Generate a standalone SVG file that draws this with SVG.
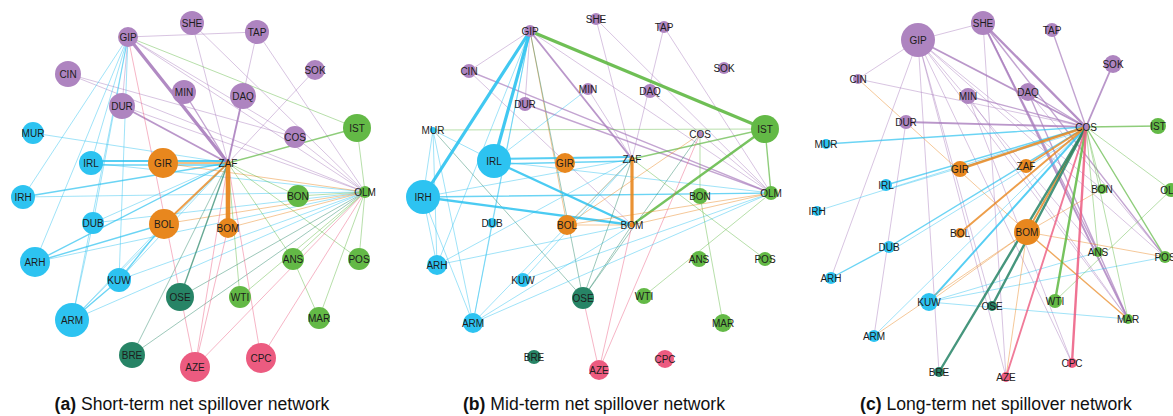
<svg xmlns="http://www.w3.org/2000/svg" width="1173" height="416" viewBox="0 0 1173 416">
<style>
.bg{fill:#ffffff}
line{stroke-linecap:round}
.p{stroke:#a97dbd}.b{stroke:#2cc2f0}.o{stroke:#e8861d}.g{stroke:#5fb843}.d{stroke:#268466}.r{stroke:#ec5a80}
.w1{stroke-width:0.9;stroke-opacity:0.5}
.w15{stroke-width:1.4;stroke-opacity:0.7}
.w2{stroke-width:1.9;stroke-opacity:0.8}
.w25{stroke-width:2.4;stroke-opacity:0.85}
.w3{stroke-width:3.2;stroke-opacity:0.9}
.w5{stroke-width:4.6;stroke-opacity:0.95}
.np{fill:#ae84c0}.nb{fill:#2dc3f1}.no{fill:#e8871e}.ng{fill:#63b946}.nd{fill:#278466}.nr{fill:#ec5b80}
.n text{font-family:"Liberation Sans",Arial,sans-serif;font-size:10px;fill:#1c1c1c;text-anchor:middle}
.cap{font-family:"Liberation Sans",Arial,sans-serif;font-size:17.6px;fill:#111;text-anchor:middle}
.cap tspan{font-weight:bold}
</style>
<rect class="bg" x="0" y="0" width="1173" height="416"/>

<!-- ================= Panel A edges ================= -->
<g id="edges-a">
<line class="p w1" x1="128" y1="37" x2="257" y2="32"/>
<line class="p w1" x1="128" y1="37" x2="365" y2="192"/>
<line class="p w1" x1="128" y1="37" x2="295" y2="137"/>
<line class="p w1" x1="128" y1="37" x2="122" y2="106"/>
<line class="p w1" x1="192" y1="23" x2="228" y2="163"/>
<line class="p w1" x1="192" y1="23" x2="365" y2="192"/>
<line class="p w1" x1="257" y1="32" x2="228" y2="163"/>
<line class="p w1" x1="257" y1="32" x2="365" y2="192"/>
<line class="p w1" x1="315" y1="70" x2="228" y2="163"/>
<line class="p w1" x1="68" y1="74" x2="365" y2="192"/>
<line class="p w1" x1="68" y1="74" x2="295" y2="137"/>
<line class="p w15" x1="184" y1="92" x2="228" y2="163"/>
<line class="p w2" x1="243" y1="96" x2="228" y2="163"/>
<line class="p w2" x1="122" y1="106" x2="228" y2="163"/>
<line class="p w1" x1="122" y1="106" x2="365" y2="192"/>
<line class="p w1" x1="295" y1="137" x2="365" y2="192"/>
<line class="g w1" x1="128" y1="37" x2="357" y2="128"/>
<line class="b w1" x1="128" y1="37" x2="23" y2="197"/>
<line class="b w1" x1="128" y1="37" x2="91" y2="163"/>
<line class="b w1" x1="128" y1="37" x2="35" y2="262"/>
<line class="b w1" x1="128" y1="37" x2="93" y2="223"/>
<line class="b w1" x1="128" y1="37" x2="119" y2="280"/>
<line class="b w1" x1="128" y1="37" x2="72" y2="320"/>
<line class="b w1" x1="33" y1="133" x2="228" y2="163"/>
<line class="b w2" x1="91" y1="161" x2="228" y2="161"/>
<line class="b w15" x1="91" y1="165" x2="228" y2="165"/>
<line class="b w1" x1="91" y1="163" x2="365" y2="192"/>
<line class="b w15" x1="23" y1="197" x2="228" y2="163"/>
<line class="b w1" x1="23" y1="197" x2="365" y2="192"/>
<line class="b w1" x1="93" y1="223" x2="228" y2="163"/>
<line class="b w1" x1="93" y1="223" x2="365" y2="192"/>
<line class="b w1" x1="93" y1="223" x2="72" y2="320"/>
<line class="b w15" x1="35" y1="262" x2="164" y2="224"/>
<line class="b w15" x1="35" y1="262" x2="228" y2="163"/>
<line class="b w1" x1="35" y1="262" x2="365" y2="192"/>
<line class="b w1" x1="119" y1="280" x2="228" y2="163"/>
<line class="b w1" x1="119" y1="280" x2="365" y2="192"/>
<line class="b w15" x1="119" y1="280" x2="164" y2="224"/>
<line class="b w15" x1="119" y1="280" x2="72" y2="320"/>
<line class="b w1" x1="72" y1="320" x2="164" y2="224"/>
<line class="b w1" x1="72" y1="320" x2="365" y2="192"/>
<line class="b w1" x1="72" y1="320" x2="228" y2="163"/>
<line class="o w15" x1="163" y1="163" x2="228" y2="163"/>
<line class="o w1" x1="163" y1="163" x2="365" y2="192"/>
<line class="o w2" x1="164" y1="224" x2="228" y2="163"/>
<line class="o w1" x1="164" y1="224" x2="365" y2="192"/>
<line class="o w1" x1="228" y1="228" x2="365" y2="192"/>
<line class="g w15" x1="357" y1="128" x2="228" y2="163"/>
<line class="g w1" x1="357" y1="128" x2="365" y2="192"/>
<line class="g w1" x1="298" y1="196" x2="228" y2="163"/>
<line class="g w1" x1="298" y1="196" x2="365" y2="192"/>
<line class="g w1" x1="293" y1="259" x2="228" y2="163"/>
<line class="g w1" x1="293" y1="259" x2="365" y2="192"/>
<line class="g w1" x1="293" y1="259" x2="319" y2="318"/>
<line class="g w1" x1="359" y1="259" x2="365" y2="192"/>
<line class="g w1" x1="359" y1="259" x2="228" y2="163"/>
<line class="g w1" x1="240" y1="297" x2="228" y2="163"/>
<line class="g w1" x1="240" y1="297" x2="365" y2="192"/>
<line class="g w1" x1="319" y1="318" x2="365" y2="192"/>
<line class="d w15" x1="180" y1="297" x2="228" y2="163"/>
<line class="d w1" x1="180" y1="297" x2="365" y2="192"/>
<line class="d w1" x1="132" y1="355" x2="228" y2="163"/>
<line class="d w1" x1="132" y1="355" x2="365" y2="192"/>
<line class="r w1" x1="195" y1="367" x2="228" y2="163"/>
<line class="r w1" x1="195" y1="367" x2="228" y2="228"/>
<line class="r w1" x1="195" y1="367" x2="128" y2="37"/>
<line class="r w1" x1="195" y1="367" x2="365" y2="192"/>
<line class="r w1" x1="261" y1="358" x2="228" y2="163"/>
<line class="r w1" x1="261" y1="358" x2="365" y2="192"/>
<line class="o w5" x1="228" y1="228" x2="228" y2="163"/>
<line class="p w3" x1="128" y1="37" x2="228" y2="163"/>
</g>

<!-- ================= Panel B edges ================= -->
<g id="edges-b">
<line class="p w1" x1="530" y1="31" x2="469" y2="71"/>
<line class="p w1" x1="530" y1="31" x2="525" y2="104"/>
<line class="o w1" x1="530" y1="31" x2="567" y2="225"/>
<line class="d w1" x1="530" y1="31" x2="583" y2="298"/>
<line class="b w1" x1="530" y1="31" x2="437" y2="265"/>
<line class="b w1" x1="530" y1="31" x2="473" y2="323"/>
<line class="b w1" x1="530" y1="31" x2="492" y2="223"/>
<line class="p w1" x1="530" y1="31" x2="771" y2="193"/>
<line class="p w1" x1="596" y1="19" x2="632" y2="159"/>
<line class="p w1" x1="596" y1="19" x2="771" y2="193"/>
<line class="p w1" x1="664" y1="27" x2="632" y2="159"/>
<line class="p w1" x1="664" y1="27" x2="771" y2="193"/>
<line class="p w15" x1="469" y1="71" x2="771" y2="193"/>
<line class="p w1" x1="469" y1="71" x2="632" y2="225"/>
<line class="p w15" x1="525" y1="104" x2="771" y2="193"/>
<line class="p w1" x1="650" y1="91" x2="771" y2="193"/>
<line class="p w1" x1="588" y1="89" x2="632" y2="159"/>
<line class="b w1" x1="588" y1="89" x2="494" y2="161"/>
<line class="g w1" x1="433" y1="130" x2="765" y2="129"/>
<line class="b w1" x1="433" y1="130" x2="494" y2="161"/>
<line class="b w1" x1="433" y1="130" x2="423" y2="197"/>
<line class="b w1" x1="433" y1="130" x2="437" y2="265"/>
<line class="b w1" x1="433" y1="130" x2="473" y2="323"/>
<line class="d w1" x1="433" y1="130" x2="583" y2="298"/>
<line class="b w2" x1="494" y1="159" x2="632" y2="157"/>
<line class="b w15" x1="494" y1="164" x2="632" y2="161"/>
<line class="b w25" x1="494" y1="161" x2="632" y2="225"/>
<line class="b w1" x1="494" y1="161" x2="771" y2="193"/>
<line class="b w25" x1="423" y1="197" x2="632" y2="225"/>
<line class="b w15" x1="423" y1="197" x2="771" y2="193"/>
<line class="b w1" x1="423" y1="197" x2="632" y2="159"/>
<line class="b w1" x1="423" y1="197" x2="437" y2="265"/>
<line class="b w1" x1="423" y1="197" x2="473" y2="323"/>
<line class="g w15" x1="765" y1="129" x2="632" y2="159"/>
<line class="g w25" x1="765" y1="129" x2="632" y2="225"/>
<line class="g w15" x1="765" y1="129" x2="771" y2="193"/>
<line class="o w1" x1="700" y1="134" x2="567" y2="225"/>
<line class="d w1" x1="700" y1="134" x2="583" y2="298"/>
<line class="r w1" x1="700" y1="134" x2="599" y2="370"/>
<line class="g w1" x1="700" y1="134" x2="700" y2="196"/>
<line class="o w1" x1="567" y1="225" x2="632" y2="225"/>
<line class="o w1" x1="567" y1="225" x2="771" y2="193"/>
<line class="o w1" x1="567" y1="225" x2="632" y2="159"/>
<line class="b w1" x1="437" y1="265" x2="632" y2="225"/>
<line class="b w1" x1="437" y1="265" x2="632" y2="159"/>
<line class="b w1" x1="473" y1="323" x2="632" y2="225"/>
<line class="b w1" x1="473" y1="323" x2="771" y2="193"/>
<line class="b w1" x1="473" y1="323" x2="632" y2="159"/>
<line class="b w1" x1="523" y1="280" x2="632" y2="159"/>
<line class="b w1" x1="523" y1="280" x2="771" y2="193"/>
<line class="b w1" x1="492" y1="223" x2="473" y2="323"/>
<line class="g w1" x1="644" y1="296" x2="771" y2="193"/>
<line class="g w1" x1="700" y1="196" x2="723" y2="323"/>
<line class="g w1" x1="632" y1="159" x2="765" y2="259"/>
<line class="r w1" x1="599" y1="370" x2="632" y2="225"/>
<line class="r w1" x1="599" y1="370" x2="583" y2="298"/>
<line class="d w1" x1="583" y1="298" x2="632" y2="159"/>
<line class="d w1" x1="583" y1="298" x2="632" y2="225"/>
<line class="o w1" x1="632" y1="225" x2="771" y2="193"/>
<line class="o w3" x1="632" y1="225" x2="632" y2="159"/>
<line class="p w2" x1="530" y1="31" x2="632" y2="159"/>
<line class="b w3" x1="530" y1="31" x2="423" y2="197"/>
<line class="b w3" x1="530" y1="31" x2="494" y2="161"/>
<line class="g w3" x1="530" y1="31" x2="765" y2="129"/>
</g>

<!-- ================= Panel C edges ================= -->
<g id="edges-c">
<line class="p w1" x1="918" y1="40" x2="983" y2="23"/>
<line class="p w1" x1="918" y1="40" x2="858" y2="79"/>
<line class="p w1" x1="918" y1="40" x2="1128" y2="319"/>
<line class="p w1" x1="918" y1="40" x2="1165" y2="257"/>
<line class="p w1" x1="918" y1="40" x2="1098" y2="252"/>
<line class="p w1" x1="918" y1="40" x2="1072" y2="363"/>
<line class="p w1" x1="918" y1="40" x2="1006" y2="377"/>
<line class="p w1" x1="918" y1="40" x2="939" y2="372"/>
<line class="p w1" x1="918" y1="40" x2="831" y2="278"/>
<line class="p w1" x1="918" y1="40" x2="992" y2="306"/>
<line class="p w1" x1="918" y1="40" x2="1102" y2="189"/>
<line class="p w2" x1="983" y1="23" x2="1128" y2="319"/>
<line class="p w15" x1="983" y1="23" x2="1165" y2="257"/>
<line class="p w15" x1="983" y1="23" x2="1098" y2="252"/>
<line class="p w1" x1="983" y1="23" x2="1006" y2="377"/>
<line class="p w15" x1="1052" y1="30" x2="1086" y2="127"/>
<line class="p w2" x1="1113" y1="64" x2="1086" y2="127"/>
<line class="p w1" x1="858" y1="79" x2="1086" y2="127"/>
<line class="o w1" x1="858" y1="79" x2="1027" y2="232"/>
<line class="p w15" x1="968" y1="96" x2="1086" y2="127"/>
<line class="p w1" x1="968" y1="96" x2="1128" y2="319"/>
<line class="p w1" x1="968" y1="96" x2="1072" y2="363"/>
<line class="p w15" x1="1028" y1="92" x2="1086" y2="127"/>
<line class="p w15" x1="1028" y1="92" x2="1128" y2="319"/>
<line class="p w1" x1="1028" y1="92" x2="1165" y2="257"/>
<line class="p w2" x1="906" y1="122" x2="1086" y2="127"/>
<line class="p w1" x1="906" y1="122" x2="874" y2="336"/>
<line class="b w15" x1="826" y1="144" x2="1086" y2="127"/>
<line class="b w15" x1="886" y1="185" x2="1086" y2="127"/>
<line class="b w1" x1="886" y1="190" x2="1086" y2="130"/>
<line class="b w1" x1="817" y1="211" x2="1086" y2="127"/>
<line class="b w15" x1="889" y1="247" x2="1086" y2="127"/>
<line class="b w1" x1="889" y1="252" x2="1086" y2="131"/>
<line class="b w15" x1="831" y1="278" x2="889" y2="247"/>
<line class="b w2" x1="929" y1="302" x2="1086" y2="127"/>
<line class="b w1" x1="929" y1="302" x2="1098" y2="252"/>
<line class="b w1" x1="929" y1="302" x2="1165" y2="257"/>
<line class="b w1" x1="929" y1="302" x2="1128" y2="319"/>
<line class="b w1" x1="874" y1="336" x2="1086" y2="127"/>
<line class="o w1" x1="874" y1="336" x2="1027" y2="232"/>
<line class="o w25" x1="960" y1="169" x2="1086" y2="127"/>
<line class="o w2" x1="1026" y1="166" x2="1086" y2="127"/>
<line class="o w2" x1="960" y1="233" x2="1086" y2="127"/>
<line class="o w2" x1="1027" y1="232" x2="1086" y2="127"/>
<line class="o w1" x1="1027" y1="232" x2="1102" y2="189"/>
<line class="o w1" x1="1027" y1="232" x2="1165" y2="257"/>
<line class="o w15" x1="1027" y1="232" x2="1128" y2="319"/>
<line class="o w1" x1="1027" y1="232" x2="1006" y2="377"/>
<line class="o w1" x1="1027" y1="232" x2="929" y2="302"/>
<line class="d w25" x1="992" y1="306" x2="1086" y2="127"/>
<line class="d w25" x1="939" y1="372" x2="1086" y2="127"/>
<line class="g w25" x1="1055" y1="301" x2="1086" y2="127"/>
<line class="g w15" x1="1158" y1="126" x2="1086" y2="127"/>
<line class="g w1" x1="1102" y1="189" x2="1086" y2="127"/>
<line class="g w1" x1="1098" y1="252" x2="1086" y2="127"/>
<line class="g w15" x1="1165" y1="257" x2="1086" y2="127"/>
<line class="g w1" x1="1128" y1="319" x2="1086" y2="127"/>
<line class="g w1" x1="1171" y1="190" x2="1086" y2="127"/>
<line class="g w1" x1="1055" y1="301" x2="1171" y2="190"/>
<line class="r w2" x1="1006" y1="377" x2="1086" y2="127"/>
<line class="r w25" x1="1072" y1="363" x2="1086" y2="127"/>
<line class="p w25" x1="983" y1="23" x2="1086" y2="127"/>
<line class="p w2" x1="918" y1="40" x2="1086" y2="127"/>
</g>

<!-- ================= Panel A nodes ================= -->
<g id="a-GIP" class="n"><circle class="np" cx="128" cy="37" r="10"/><text x="128" y="40.6">GIP</text></g>
<g id="a-SHE" class="n"><circle class="np" cx="192" cy="23" r="12"/><text x="192" y="26.6">SHE</text></g>
<g id="a-TAP" class="n"><circle class="np" cx="257" cy="32" r="12"/><text x="257" y="35.6">TAP</text></g>
<g id="a-SOK" class="n"><circle class="np" cx="315" cy="70" r="10"/><text x="315" y="73.6">SOK</text></g>
<g id="a-CIN" class="n"><circle class="np" cx="68" cy="74" r="13"/><text x="68" y="77.6">CIN</text></g>
<g id="a-MIN" class="n"><circle class="np" cx="184" cy="92" r="12"/><text x="184" y="95.6">MIN</text></g>
<g id="a-DAQ" class="n"><circle class="np" cx="243" cy="96" r="13"/><text x="243" y="99.6">DAQ</text></g>
<g id="a-DUR" class="n"><circle class="np" cx="122" cy="106" r="13"/><text x="122" y="109.6">DUR</text></g>
<g id="a-MUR" class="n"><circle class="nb" cx="33" cy="133" r="11"/><text x="33" y="136.6">MUR</text></g>
<g id="a-COS" class="n"><circle class="np" cx="295" cy="137" r="11"/><text x="295" y="140.6">COS</text></g>
<g id="a-IST" class="n"><circle class="ng" cx="357" cy="128" r="14"/><text x="357" y="131.6">IST</text></g>
<g id="a-IRL" class="n"><circle class="nb" cx="91" cy="163" r="12"/><text x="91" y="166.6">IRL</text></g>
<g id="a-GIR" class="n"><circle class="no" cx="163" cy="163" r="15"/><text x="163" y="166.6">GIR</text></g>
<g id="a-ZAF" class="n"><circle class="no" cx="228" cy="163" r="2.5"/><text x="228" y="166.6">ZAF</text></g>
<g id="a-IRH" class="n"><circle class="nb" cx="23" cy="197" r="12"/><text x="23" y="200.6">IRH</text></g>
<g id="a-BON" class="n"><circle class="ng" cx="298" cy="196" r="11"/><text x="298" y="199.6">BON</text></g>
<g id="a-OLM" class="n"><circle class="ng" cx="365" cy="192" r="6"/><text x="365" y="195.6">OLM</text></g>
<g id="a-DUB" class="n"><circle class="nb" cx="93" cy="223" r="11"/><text x="93" y="226.6">DUB</text></g>
<g id="a-BOL" class="n"><circle class="no" cx="164" cy="224" r="15"/><text x="164" y="227.6">BOL</text></g>
<g id="a-BOM" class="n"><circle class="no" cx="228" cy="228" r="10"/><text x="228" y="231.6">BOM</text></g>
<g id="a-ARH" class="n"><circle class="nb" cx="35" cy="262" r="15"/><text x="35" y="265.6">ARH</text></g>
<g id="a-ANS" class="n"><circle class="ng" cx="293" cy="259" r="11"/><text x="293" y="262.6">ANS</text></g>
<g id="a-POS" class="n"><circle class="ng" cx="359" cy="259" r="11"/><text x="359" y="262.6">POS</text></g>
<g id="a-KUW" class="n"><circle class="nb" cx="119" cy="280" r="12"/><text x="119" y="283.6">KUW</text></g>
<g id="a-OSE" class="n"><circle class="nd" cx="180" cy="297" r="14"/><text x="180" y="300.6">OSE</text></g>
<g id="a-WTI" class="n"><circle class="ng" cx="240" cy="297" r="11"/><text x="240" y="300.6">WTI</text></g>
<g id="a-MAR" class="n"><circle class="ng" cx="319" cy="318" r="11"/><text x="319" y="321.6">MAR</text></g>
<g id="a-ARM" class="n"><circle class="nb" cx="72" cy="320" r="17"/><text x="72" y="323.6">ARM</text></g>
<g id="a-BRE" class="n"><circle class="nd" cx="132" cy="355" r="13"/><text x="132" y="358.6">BRE</text></g>
<g id="a-AZE" class="n"><circle class="nr" cx="195" cy="367" r="15"/><text x="195" y="370.6">AZE</text></g>
<g id="a-CPC" class="n"><circle class="nr" cx="261" cy="358" r="15"/><text x="261" y="361.6">CPC</text></g>

<!-- ================= Panel B nodes ================= -->
<g id="b-GIP" class="n"><circle class="np" cx="530" cy="31" r="6"/><text x="530" y="34.6">GIP</text></g>
<g id="b-SHE" class="n"><circle class="np" cx="596" cy="19" r="6"/><text x="596" y="22.6">SHE</text></g>
<g id="b-TAP" class="n"><circle class="np" cx="664" cy="27" r="6"/><text x="664" y="30.6">TAP</text></g>
<g id="b-SOK" class="n"><circle class="np" cx="724" cy="68" r="6"/><text x="724" y="71.6">SOK</text></g>
<g id="b-CIN" class="n"><circle class="np" cx="469" cy="71" r="7"/><text x="469" y="74.6">CIN</text></g>
<g id="b-MIN" class="n"><circle class="np" cx="588" cy="89" r="6"/><text x="588" y="92.6">MIN</text></g>
<g id="b-DAQ" class="n"><circle class="np" cx="650" cy="91" r="7"/><text x="650" y="94.6">DAQ</text></g>
<g id="b-DUR" class="n"><circle class="np" cx="525" cy="104" r="7"/><text x="525" y="107.6">DUR</text></g>
<g id="b-MUR" class="n"><circle class="nb" cx="433" cy="130" r="3"/><text x="433" y="133.6">MUR</text></g>
<g id="b-COS" class="n"><circle class="np" cx="700" cy="134" r="3"/><text x="700" y="137.6">COS</text></g>
<g id="b-IST" class="n"><circle class="ng" cx="765" cy="129" r="14"/><text x="765" y="132.6">IST</text></g>
<g id="b-IRL" class="n"><circle class="nb" cx="494" cy="161" r="17"/><text x="494" y="164.6">IRL</text></g>
<g id="b-GIR" class="n"><circle class="no" cx="565" cy="163" r="10"/><text x="565" y="166.6">GIR</text></g>
<g id="b-ZAF" class="n"><circle class="no" cx="632" cy="159" r="2.5"/><text x="632" y="162.6">ZAF</text></g>
<g id="b-IRH" class="n"><circle class="nb" cx="423" cy="197" r="17"/><text x="423" y="200.6">IRH</text></g>
<g id="b-BON" class="n"><circle class="ng" cx="700" cy="196" r="8"/><text x="700" y="199.6">BON</text></g>
<g id="b-OLM" class="n"><circle class="ng" cx="771" cy="193" r="7"/><text x="771" y="196.6">OLM</text></g>
<g id="b-DUB" class="n"><circle class="nb" cx="492" cy="223" r="5"/><text x="492" y="226.6">DUB</text></g>
<g id="b-BOL" class="n"><circle class="no" cx="567" cy="225" r="10"/><text x="567" y="228.6">BOL</text></g>
<g id="b-BOM" class="n"><circle class="no" cx="632" cy="225" r="2.5"/><text x="632" y="228.6">BOM</text></g>
<g id="b-ARH" class="n"><circle class="nb" cx="437" cy="265" r="10"/><text x="437" y="268.6">ARH</text></g>
<g id="b-ANS" class="n"><circle class="ng" cx="699" cy="259" r="8"/><text x="699" y="262.6">ANS</text></g>
<g id="b-POS" class="n"><circle class="ng" cx="765" cy="259" r="7"/><text x="765" y="262.6">POS</text></g>
<g id="b-KUW" class="n"><circle class="nb" cx="523" cy="280" r="7"/><text x="523" y="283.6">KUW</text></g>
<g id="b-OSE" class="n"><circle class="nd" cx="583" cy="298" r="11"/><text x="583" y="301.6">OSE</text></g>
<g id="b-WTI" class="n"><circle class="ng" cx="644" cy="296" r="8"/><text x="644" y="299.6">WTI</text></g>
<g id="b-MAR" class="n"><circle class="ng" cx="723" cy="323" r="9"/><text x="723" y="326.6">MAR</text></g>
<g id="b-ARM" class="n"><circle class="nb" cx="473" cy="323" r="10"/><text x="473" y="326.6">ARM</text></g>
<g id="b-BRE" class="n"><circle class="nd" cx="534" cy="357" r="7"/><text x="534" y="360.6">BRE</text></g>
<g id="b-AZE" class="n"><circle class="nr" cx="599" cy="370" r="10"/><text x="599" y="373.6">AZE</text></g>
<g id="b-CPC" class="n"><circle class="nr" cx="665" cy="359" r="9"/><text x="665" y="362.6">CPC</text></g>

<!-- ================= Panel C nodes ================= -->
<g id="c-GIP" class="n"><circle class="np" cx="918" cy="40" r="17"/><text x="918" y="43.6">GIP</text></g>
<g id="c-SHE" class="n"><circle class="np" cx="983" cy="23" r="12"/><text x="983" y="26.6">SHE</text></g>
<g id="c-TAP" class="n"><circle class="np" cx="1052" cy="30" r="7"/><text x="1052" y="33.6">TAP</text></g>
<g id="c-SOK" class="n"><circle class="np" cx="1113" cy="64" r="9"/><text x="1113" y="67.6">SOK</text></g>
<g id="c-CIN" class="n"><circle class="np" cx="858" cy="79" r="5"/><text x="858" y="82.6">CIN</text></g>
<g id="c-MIN" class="n"><circle class="np" cx="968" cy="96" r="8"/><text x="968" y="99.6">MIN</text></g>
<g id="c-DAQ" class="n"><circle class="np" cx="1028" cy="92" r="9"/><text x="1028" y="95.6">DAQ</text></g>
<g id="c-DUR" class="n"><circle class="np" cx="906" cy="122" r="7"/><text x="906" y="125.6">DUR</text></g>
<g id="c-MUR" class="n"><circle class="nb" cx="826" cy="144" r="5"/><text x="826" y="147.6">MUR</text></g>
<g id="c-COS" class="n"><circle class="np" cx="1086" cy="127" r="3"/><text x="1086" y="130.6">COS</text></g>
<g id="c-IST" class="n"><circle class="ng" cx="1158" cy="126" r="8"/><text x="1158" y="129.6">IST</text></g>
<g id="c-IRL" class="n"><circle class="nb" cx="886" cy="185" r="6"/><text x="886" y="188.6">IRL</text></g>
<g id="c-GIR" class="n"><circle class="no" cx="960" cy="169" r="8"/><text x="960" y="172.6">GIR</text></g>
<g id="c-ZAF" class="n"><circle class="no" cx="1026" cy="166" r="7"/><text x="1026" y="169.6">ZAF</text></g>
<g id="c-IRH" class="n"><circle class="nb" cx="817" cy="211" r="5"/><text x="817" y="214.6">IRH</text></g>
<g id="c-BON" class="n"><circle class="ng" cx="1102" cy="189" r="5"/><text x="1102" y="192.6">BON</text></g>
<g id="c-OLM" class="n"><circle class="ng" cx="1171" cy="190" r="7"/><text x="1171" y="193.6">OLM</text></g>
<g id="c-DUB" class="n"><circle class="nb" cx="889" cy="247" r="6"/><text x="889" y="250.6">DUB</text></g>
<g id="c-BOL" class="n"><circle class="no" cx="960" cy="233" r="5"/><text x="960" y="236.6">BOL</text></g>
<g id="c-BOM" class="n"><circle class="no" cx="1027" cy="232" r="13"/><text x="1027" y="235.6">BOM</text></g>
<g id="c-ARH" class="n"><circle class="nb" cx="831" cy="278" r="6"/><text x="831" y="281.6">ARH</text></g>
<g id="c-ANS" class="n"><circle class="ng" cx="1098" cy="252" r="5"/><text x="1098" y="255.6">ANS</text></g>
<g id="c-POS" class="n"><circle class="ng" cx="1165" cy="257" r="6"/><text x="1165" y="260.6">POS</text></g>
<g id="c-KUW" class="n"><circle class="nb" cx="929" cy="302" r="9"/><text x="929" y="305.6">KUW</text></g>
<g id="c-OSE" class="n"><circle class="nd" cx="992" cy="306" r="5"/><text x="992" y="309.6">OSE</text></g>
<g id="c-WTI" class="n"><circle class="ng" cx="1055" cy="301" r="7"/><text x="1055" y="304.6">WTI</text></g>
<g id="c-MAR" class="n"><circle class="ng" cx="1128" cy="319" r="5"/><text x="1128" y="322.6">MAR</text></g>
<g id="c-ARM" class="n"><circle class="nb" cx="874" cy="336" r="6"/><text x="874" y="339.6">ARM</text></g>
<g id="c-BRE" class="n"><circle class="nd" cx="939" cy="372" r="5"/><text x="939" y="375.6">BRE</text></g>
<g id="c-AZE" class="n"><circle class="nr" cx="1006" cy="377" r="5"/><text x="1006" y="380.6">AZE</text></g>
<g id="c-CPC" class="n"><circle class="nr" cx="1072" cy="363" r="5"/><text x="1072" y="366.6">CPC</text></g>

<!-- captions -->
<text class="cap" x="192" y="410"><tspan>(a)</tspan> Short-term net spillover network</text>
<text class="cap" x="594" y="410"><tspan>(b)</tspan> Mid-term net spillover network</text>
<text class="cap" x="996" y="410"><tspan>(c)</tspan> Long-term net spillover network</text>
</svg>
